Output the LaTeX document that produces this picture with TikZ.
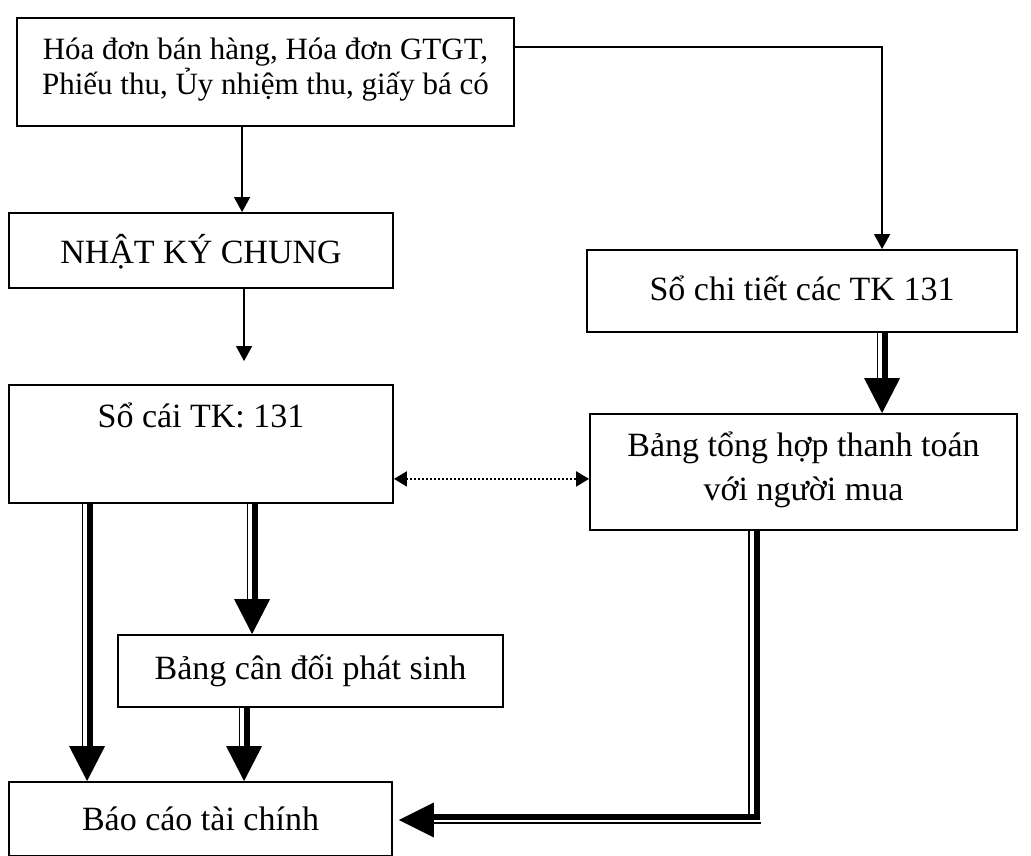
\documentclass[tikz,border=0pt]{standalone}
\usepackage{fontspec}
\setmainfont{Liberation Serif}
\usetikzlibrary{arrows.meta,calc,fit}

\newcommand{\bodysize}{\fontsize{25.5pt}{33pt}\selectfont}
\newcommand{\sourcesize}{\fontsize{23.25pt}{26.25pt}\selectfont}

% heavy double arrow pointing down: thin rule, gap, thick rule, solid head
% #1 start point, #2 tip point
\newcommand{\heavydown}[2]{%
  \path #1 coordinate (hd-s) #2 coordinate (hd-e);
  \draw[heavy] ($(hd-s)+(3,0)$) -- ($(hd-e)+(3,-33)$);
  \draw[light] ($(hd-s)+(-4.5,0)$) -- ($(hd-e)+(-4.5,-33)$);
  \fill (hd-e) -- ($(hd-e)+(-18,-35)$) -- ($(hd-e)+(18,-35)$) -- cycle;
}

\begin{document}
\begin{tikzpicture}[x=0.75pt,y=-0.75pt,
  box/.style={draw, line width=1.4pt, inner sep=0pt},
  lbl/.style={anchor=base, inner sep=0pt, font=\bodysize, align=center},
  thinarrow/.style={line width=1.1pt, -{Triangle[length=11.25pt,width=12pt]}},
  heavy/.style={line width=4.5pt},
  light/.style={line width=1.1pt},
  linkarrow/.style={line width=1.5pt, dash pattern=on 1.5pt off 1.5pt,
    {Triangle[length=9.75pt,width=11.25pt]}-{Triangle[length=9.75pt,width=11.25pt]}}
]
\useasboundingbox (0,0) rectangle (1031,856);

% boxes
\node[box, fit={(17,18) (514,126)}] (src) {};
\node[box, fit={(9,213) (393,288)}] (nkc) {};
\node[box, fit={(587,250) (1017,332)}] (detail) {};
\node[box, fit={(9,385) (393,503)}] (ledger) {};
\node[box, fit={(590,414) (1017,530)}] (summary) {};
\node[box, fit={(118,635) (503,707)}] (trial) {};
\node[box, fit={(9,782) (392,856)}] (report) {};

% labels (multi-line labels are placed by the baseline of their last line)
\node[lbl, font=\sourcesize] (srcText) at ($(src.north)+(0,77)$)
  {Hóa đơn bán hàng, Hóa đơn GTGT,\\Phiếu thu, Ủy nhiệm thu, giấy bá có};
\node[lbl] (nkcText) at ($(nkc.north)+(0,51)$) {NHẬT KÝ CHUNG};
\node[lbl] (detailText) at ($(detail.north)+(0,51)$) {Sổ chi tiết các TK 131};
\node[lbl] (ledgerText) at ($(ledger.north)+(0,43)$) {Sổ cái TK: 131};
\node[lbl] (summaryText) at ($(summary.north)+(0,87)$)
  {Bảng tổng hợp thanh toán\\với người mua};
\node[lbl] (trialText) at ($(trial.north)+(0,45)$) {Bảng cân đối phát sinh};
\node[lbl] (reportText) at ($(report.north)+(0,49)$) {Báo cáo tài chính};

% plain arrows
\draw[thinarrow] ($(src.south west)+(226,0)$) -- ($(nkc.north west)+(234,0)$);
\draw[thinarrow] ($(nkc.south west)+(236,0)$) -- ($(ledger.north west)+(236,-23)$);
\draw[thinarrow] ($(src.north east)+(0,30)$) -| ($(detail.north west)+(296,0)$);

% dotted two-way link
\draw[linkarrow] ($(ledger.south east)+(0,-25)$) -- ($(summary.west |- ledger.south east)+(0,-25)$);

% heavy arrows
\heavydown{($(ledger.south west)+(79,0)$)}{($(report.north west)+(79,0)$)}
\heavydown{($(ledger.south west)+(244,0)$)}{($(trial.north west)+(135,0)$)}
\heavydown{($(trial.south west)+(127,0)$)}{($(report.north west)+(236,0)$)}
\heavydown{($(detail.south west)+(296,0)$)}{($(summary.north west)+(293,0)$)}

% heavy elbow arrow from the summary table to the report
\coordinate (elbowStart) at ($(summary.south west)+(160,0)$);
\coordinate (elbowTip) at ($(report.east)+(6,1)$);
\draw[heavy] ($(elbowStart)+(7.5,0)$) |- ($(elbowTip)+(33,-3)$);
\draw[light] (elbowStart) -- ++(0,284);
\draw[light] ($(elbowTip)+(33,3)$) -- ($(elbowTip)+(362.5,3)$);
\fill (elbowTip) -- ($(elbowTip)+(35,-17.5)$) -- ($(elbowTip)+(35,17.5)$) -- cycle;
\end{tikzpicture}
\end{document}
